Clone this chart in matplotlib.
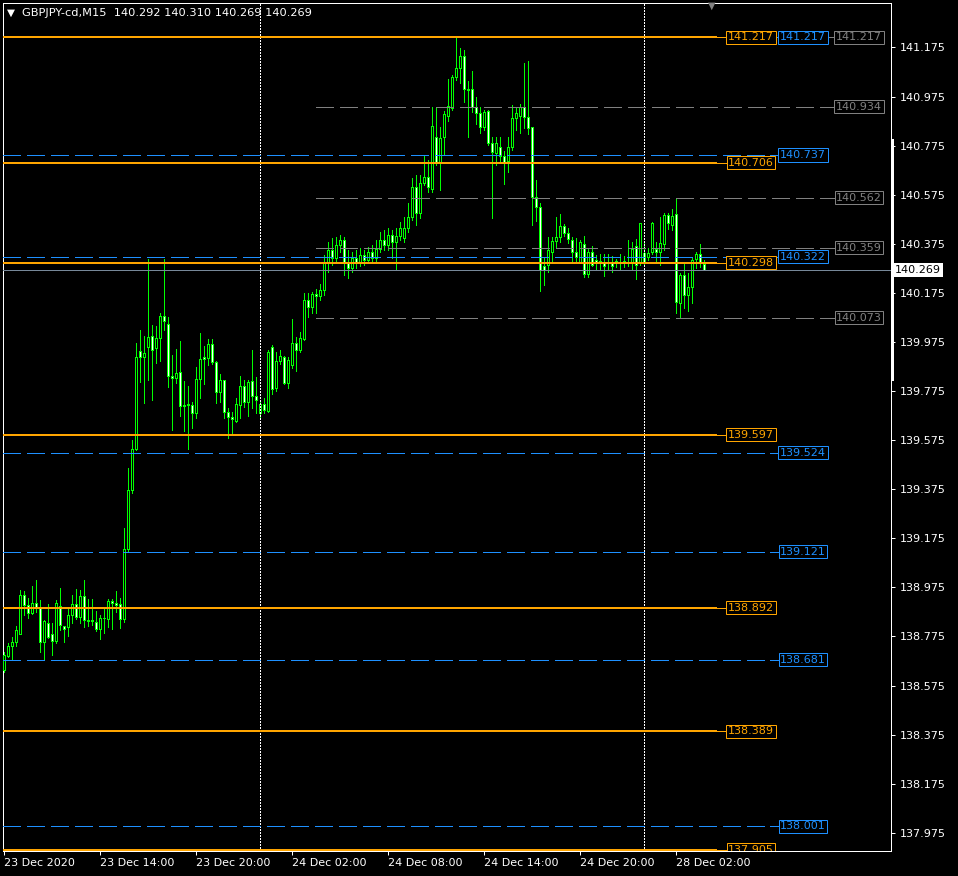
import matplotlib
matplotlib.use("Agg")
import matplotlib.pyplot as plt
from matplotlib.lines import Line2D
import numpy as np

# ---------------- data ----------------
symbol_header = "GBPJPY-cd,M15  140.292 140.310 140.269 140.269"

opens = [
    138.639, 138.696, 138.737, 138.753, 138.786, 138.945, 138.904, 138.872, 138.912, 138.896,
    138.753, 138.831, 138.786, 138.757, 138.900, 138.819, 138.815, 138.863, 138.908, 138.855,
    138.941, 138.843, 138.839, 138.835, 138.806, 138.851, 138.847, 138.921, 138.912, 138.908,
    138.847, 139.132, 139.373, 139.538, 139.938, 139.913, 139.954, 139.999, 139.950, 139.991,
    140.081, 140.048, 139.836, 139.827, 139.852, 139.713, 139.717, 139.717, 139.685, 139.823,
    139.913, 139.909, 139.966, 139.893, 139.770, 139.819, 139.689, 139.668, 139.652, 139.717,
    139.795, 139.730, 139.815, 139.754, 139.685, 139.721, 139.693, 139.954, 139.787, 139.897,
    139.913, 139.807, 139.881, 139.970, 139.942, 139.987, 140.146, 140.117, 140.170, 140.162,
    140.186, 140.301, 140.350, 140.317, 140.370, 140.390, 140.301, 140.276, 140.317, 140.301,
    140.329, 140.309, 140.341, 140.317, 140.354, 140.390, 140.370, 140.411, 140.382, 140.406,
    140.398, 140.439, 140.484, 140.606, 140.500, 140.623, 140.647, 140.598, 140.810, 140.708,
    140.810, 140.896, 140.929, 141.054, 141.091, 141.140, 141.005, 141.005, 140.932, 140.908,
    140.851, 140.916, 140.785, 140.745, 140.769, 140.732, 140.712, 140.769, 140.887, 140.896,
    140.932, 140.891, 140.851, 140.565, 140.524, 140.284, 140.289, 140.341, 140.386, 140.403,
    140.448, 140.419, 140.390, 140.341, 140.301, 140.374, 140.252, 140.341, 140.309, 140.301,
    140.301, 140.301, 140.301, 140.301, 140.301, 140.301, 140.301, 140.297, 140.366, 140.297,
    140.337, 140.321, 140.341, 140.354, 140.341, 140.374, 140.492, 140.452, 140.496, 140.133,
    140.248, 140.166, 140.199, 140.313, 140.333, 140.292,
]
highs = [
    138.712, 138.749, 138.774, 138.819, 138.965, 138.961, 138.933, 138.982, 139.006, 138.925,
    138.843, 138.908, 138.831, 138.925, 138.974, 138.819, 138.888, 138.945, 138.970, 138.965,
    139.006, 138.929, 138.929, 138.880, 138.863, 138.888, 138.929, 138.929, 138.961, 138.933,
    139.218, 139.463, 139.575, 139.970, 140.023, 139.999, 140.313, 140.044, 140.040, 140.093,
    140.313, 140.077, 139.921, 139.946, 139.979, 139.815, 139.795, 139.730, 139.873, 140.011,
    139.958, 139.987, 139.987, 139.897, 139.844, 139.819, 139.705, 139.689, 139.746, 139.836,
    139.819, 139.819, 139.942, 139.831, 139.730, 139.746, 139.942, 139.962, 139.934, 139.942,
    139.917, 139.913, 140.068, 139.995, 140.015, 140.174, 140.174, 140.178, 140.190, 140.211,
    140.329, 140.382, 140.398, 140.403, 140.411, 140.403, 140.350, 140.341, 140.350, 140.358,
    140.350, 140.362, 140.370, 140.390, 140.423, 140.431, 140.439, 140.431, 140.439, 140.464,
    140.484, 140.541, 140.643, 140.655, 140.655, 140.737, 140.718, 140.933, 140.933, 140.851,
    140.916, 141.046, 141.062, 141.218, 141.173, 141.165, 141.038, 141.079, 140.973, 140.932,
    140.920, 140.920, 140.810, 140.810, 140.810, 140.753, 140.810, 140.941, 140.928, 140.945,
    141.111, 141.119, 140.851, 140.634, 140.541, 140.317, 140.403, 140.403, 140.484, 140.496,
    140.456, 140.439, 140.403, 140.398, 140.390, 140.407, 140.358, 140.366, 140.329, 140.333,
    140.333, 140.333, 140.325, 140.313, 140.333, 140.325, 140.390, 140.382, 140.394, 140.460,
    140.382, 140.358, 140.464, 140.382, 140.484, 140.500, 140.500, 140.517, 140.561, 140.256,
    140.297, 140.256, 140.317, 140.341, 140.374, 140.310,
]
lows = [
    138.631, 138.692, 138.684, 138.737, 138.786, 138.863, 138.851, 138.868, 138.876, 138.712,
    138.684, 138.770, 138.700, 138.749, 138.802, 138.753, 138.778, 138.831, 138.847, 138.831,
    138.815, 138.819, 138.823, 138.798, 138.766, 138.790, 138.815, 138.806, 138.876, 138.811,
    138.835, 139.120, 139.360, 139.534, 139.811, 139.726, 139.819, 139.738, 139.889, 139.897,
    140.023, 139.791, 139.616, 139.807, 139.673, 139.612, 139.538, 139.624, 139.664, 139.746,
    139.803, 139.881, 139.885, 139.726, 139.730, 139.664, 139.583, 139.603, 139.648, 139.664,
    139.709, 139.673, 139.705, 139.685, 139.664, 139.685, 139.689, 139.763, 139.775, 139.885,
    139.803, 139.787, 139.870, 139.856, 139.934, 139.983, 140.077, 140.093, 140.093, 140.146,
    140.166, 140.260, 140.289, 140.301, 140.341, 140.248, 140.235, 140.260, 140.276, 140.284,
    140.289, 140.301, 140.301, 140.301, 140.341, 140.350, 140.350, 140.317, 140.268, 140.390,
    140.382, 140.423, 140.472, 140.451, 140.480, 140.614, 140.586, 140.586, 140.696, 140.594,
    140.741, 140.875, 140.920, 141.042, 141.030, 140.953, 140.810, 140.912, 140.863, 140.826,
    140.839, 140.777, 140.480, 140.696, 140.712, 140.618, 140.667, 140.757, 140.839, 140.826,
    140.847, 140.822, 140.451, 140.468, 140.182, 140.207, 140.260, 140.301, 140.362, 140.382,
    140.407, 140.378, 140.301, 140.301, 140.297, 140.240, 140.240, 140.284, 140.268, 140.268,
    140.243, 140.268, 140.260, 140.280, 140.268, 140.280, 140.284, 140.268, 140.231, 140.289,
    140.284, 140.309, 140.333, 140.301, 140.289, 140.350, 140.435, 140.431, 140.093, 140.076,
    140.113, 140.101, 140.133, 140.276, 140.280, 140.269,
]
closes = [
    138.700, 138.737, 138.753, 138.802, 138.945, 138.904, 138.872, 138.912, 138.896, 138.753,
    138.839, 138.774, 138.757, 138.912, 138.823, 138.806, 138.863, 138.908, 138.855, 138.941,
    138.843, 138.839, 138.843, 138.806, 138.851, 138.849, 138.921, 138.912, 138.904, 138.847,
    139.132, 139.373, 139.538, 139.913, 139.913, 139.930, 139.995, 139.942, 139.991, 140.081,
    140.060, 139.836, 139.827, 139.848, 139.713, 139.717, 139.721, 139.685, 139.823, 139.905,
    139.905, 139.966, 139.893, 139.770, 139.819, 139.689, 139.668, 139.660, 139.721, 139.795,
    139.730, 139.811, 139.754, 139.738, 139.721, 139.697, 139.934, 139.783, 139.897, 139.917,
    139.807, 139.901, 139.970, 139.942, 139.991, 140.146, 140.117, 140.170, 140.162, 140.186,
    140.301, 140.350, 140.317, 140.370, 140.390, 140.301, 140.276, 140.317, 140.301, 140.329,
    140.309, 140.341, 140.317, 140.354, 140.390, 140.370, 140.411, 140.382, 140.406, 140.439,
    140.439, 140.484, 140.606, 140.500, 140.623, 140.647, 140.606, 140.855, 140.708, 140.806,
    140.904, 140.937, 141.054, 141.091, 141.140, 141.005, 141.001, 140.932, 140.908, 140.851,
    140.912, 140.785, 140.749, 140.785, 140.732, 140.708, 140.769, 140.887, 140.908, 140.932,
    140.891, 140.847, 140.565, 140.524, 140.268, 140.268, 140.350, 140.386, 140.403, 140.448,
    140.419, 140.394, 140.341, 140.321, 140.382, 140.252, 140.341, 140.289, 140.301, 140.305,
    140.284, 140.301, 140.284, 140.305, 140.301, 140.305, 140.301, 140.354, 140.289, 140.460,
    140.301, 140.337, 140.460, 140.341, 140.378, 140.492, 140.460, 140.488, 140.137, 140.248,
    140.166, 140.199, 140.309, 140.333, 140.297, 140.269,
]

orange_levels = [141.217, 140.706, 140.298, 139.597, 138.892, 138.389, 137.905]
blue_levels = [141.217, 140.737, 140.322, 139.524, 139.121, 138.681, 138.001]
gray_levels = [141.217, 140.934, 140.562, 140.359, 140.073]
current_price = 140.269

price_ticks = [137.975, 138.175, 138.375, 138.575, 138.775, 138.975, 139.175, 139.375,
               139.575, 139.775, 139.975, 140.175, 140.375, 140.575, 140.775, 140.975, 141.175]
date_tick_bars = [0, 24, 48, 72, 96, 120, 144, 168]
date_tick_labels = ["23 Dec 2020", "23 Dec 14:00", "23 Dec 20:00", "24 Dec 02:00",
                    "24 Dec 08:00", "24 Dec 14:00", "24 Dec 20:00", "28 Dec 02:00"]
day_separator_bars = [64, 160]

# ---------------- figure ----------------
W, H = 958, 876
DPI = 100
PX = 72.0 / DPI  # one pixel in points
fig = plt.figure(figsize=(W / DPI, H / DPI), dpi=DPI, facecolor="black")

ax_l, ax_r, ax_t, ax_b = 3, 891, 3, 851
ax = fig.add_axes([ax_l / W, 1 - ax_b / H, (ax_r - ax_l) / W, (ax_b - ax_t) / H])
ax.set_facecolor("black")

def px2x(px):
    return (px - 4) / 4.0

ymin, ymax = 137.9007, 141.3563
ax.set_xlim(px2x(ax_l), px2x(ax_r))
ax.set_ylim(ymin, ymax)

LIME = "#00FF00"
ORANGE = "#FFA500"
BLUE = "#1E90FF"
GRAY = "#808080"

n = len(opens)
idx = np.arange(n)
o = np.array(opens); h = np.array(highs); l = np.array(lows); c = np.array(closes)

# wicks
ax.vlines(idx, l, h, color=LIME, linewidth=PX, antialiased=False, zorder=2)
# bodies (bull = black fill, bear = white fill, lime outline)
bottom = np.minimum(o, c)
height = np.abs(c - o)
face = ["black" if cc > oo else "white" for oo, cc in zip(o, c)]
ax.bar(idx, height, bottom=bottom, width=0.5, color=face, edgecolor=LIME,
       linewidth=PX, antialiased=False, zorder=3)

# day separators
for b in day_separator_bars:
    ax.axvline(b, color="white", linewidth=PX, linestyle=(0, (2, 2)), zorder=4,
               antialiased=False)

dash = (0, (18, 6))
# gray levels
for lv in gray_levels:
    ax.plot([px2x(316), px2x(826)], [lv, lv], color=GRAY, linewidth=PX, linestyle=dash,
            zorder=5, antialiased=False)
    ax.plot([px2x(826), px2x(835)], [lv, lv], color=GRAY, linewidth=PX, zorder=5,
            antialiased=False)
    ax.text(px2x(859), lv, f"{lv:.3f}", color=GRAY, fontsize=8, ha="center", va="center",
            zorder=8, clip_on=True,
            bbox=dict(boxstyle="square,pad=0.14", fc="black", ec=GRAY, lw=PX))
# blue levels
for lv in blue_levels:
    ax.plot([px2x(3), px2x(770)], [lv, lv], color=BLUE, linewidth=PX, linestyle=dash,
            zorder=6, antialiased=False)
    ax.plot([px2x(770), px2x(779)], [lv, lv], color=BLUE, linewidth=PX, zorder=6,
            antialiased=False)
    ax.text(px2x(803), lv, f"{lv:.3f}", color=BLUE, fontsize=8, ha="center", va="center",
            zorder=8, clip_on=True,
            bbox=dict(boxstyle="square,pad=0.14", fc="black", ec=BLUE, lw=PX))
# current price line
ax.axhline(current_price, color="#778899", linewidth=PX, zorder=6, antialiased=False)
# orange levels
for lv in orange_levels:
    ax.plot([px2x(3), px2x(717)], [lv, lv], color=ORANGE, linewidth=2 * PX, zorder=7,
            antialiased=False, solid_capstyle="butt")
    ax.plot([px2x(717), px2x(727)], [lv, lv], color=ORANGE, linewidth=PX, zorder=7,
            antialiased=False)
    ax.text(px2x(751), lv, f"{lv:.3f}", color=ORANGE, fontsize=8, ha="center", va="center",
            zorder=9, clip_on=True,
            bbox=dict(boxstyle="square,pad=0.14", fc="black", ec=ORANGE, lw=PX))

# axes styling
for s in ax.spines.values():
    s.set_color("white")
    s.set_linewidth(PX)
ax.yaxis.tick_right()
ax.set_yticks(price_ticks)
ax.set_yticklabels([f"{v:.3f}" for v in price_ticks])
ax.set_xticks(date_tick_bars)
ax.set_xticklabels(date_tick_labels)
ax.tick_params(axis="both", colors="white", labelsize=8, length=3, width=PX, direction="out")
ax.tick_params(axis="y", pad=3)
ax.tick_params(axis="x", pad=2)
for t in ax.get_xticklabels():
    t.set_ha("left")

# current price label on the price scale
ax.text(1 + 4 / (ax_r - ax_l), current_price, f"{current_price:.3f}", color="black",
        fontsize=8, ha="left", va="center", transform=ax.get_yaxis_transform(),
        zorder=10, clip_on=False,
        bbox=dict(boxstyle="square,pad=0.2", fc="white", ec="white", lw=0))

# thick part of the right border (scroll marker)
fig.add_artist(Line2D([892.5 / W, 892.5 / W], [1 - 140 / H, 1 - 380 / H], color="white",
                      linewidth=2 * PX, transform=fig.transFigure))

# header
fig.text(7 / W, 1 - 13 / H, "\u25BC", color="white", fontsize=7.5, ha="left", va="center")
fig.text(22 / W, 1 - 13 / H, symbol_header, color="white", fontsize=8.2, ha="left",
         va="center")
# shift marker
fig.text(712 / W, 1 - 6 / H, "\u25BC", color=GRAY, fontsize=7, ha="center", va="center")

fig.savefig("out.png", dpi=DPI, facecolor="black")
